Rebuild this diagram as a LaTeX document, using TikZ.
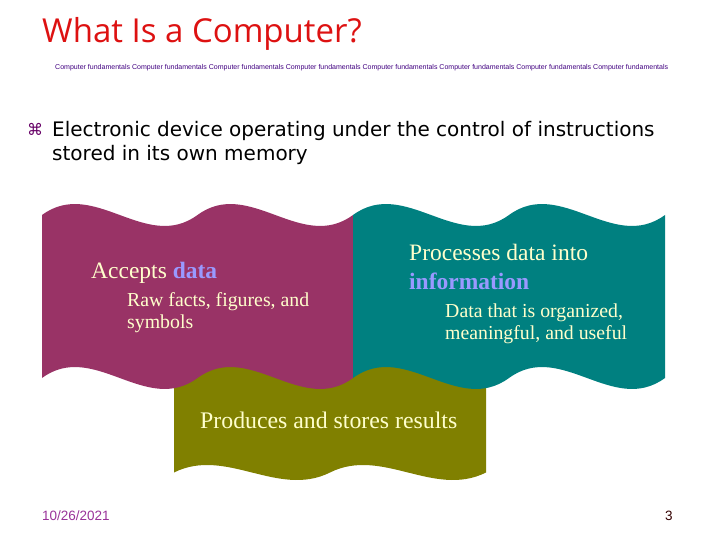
\documentclass[tikz,border=0pt]{standalone}
\usepackage{fontspec}
\setmainfont{Liberation Serif}
\newfontfamily\tahoma{DejaVu Sans}
\newfontfamily\dejavu{DejaVu Sans}
\newfontfamily\titlefont{Open Sans}
\newfontfamily\arialfont{Liberation Sans}
\definecolor{wmag}{HTML}{993366}
\definecolor{wteal}{HTML}{008080}
\definecolor{wolive}{HTML}{808000}
\definecolor{cream}{HTML}{FFFFCC}
\definecolor{lav}{HTML}{9999FF}
\definecolor{titlered}{HTML}{DD1111}
\definecolor{tinypurple}{HTML}{400080}
\definecolor{bulcol}{HTML}{660066}
\definecolor{datecol}{HTML}{993399}
\definecolor{numcol}{HTML}{330000}
\begin{document}
\begin{tikzpicture}[x=1pt,y=-1pt,
  txt/.style={inner sep=0pt, anchor=base west}]
\useasboundingbox (0,0) rectangle (720,540);
% title
\node[txt, text=titlered, font=\titlefont\fontsize{33}{37}\selectfont] (title) at (42,43) {What Is a Computer?};
\node[txt, text=tinypurple, font=\arialfont\fontsize{6}{7}\selectfont] (tiny) at (55,70)
  {\resizebox{613pt}{!}{Computer fundamentals Computer fundamentals Computer fundamentals Computer fundamentals Computer fundamentals Computer fundamentals Computer fundamentals Computer fundamentals}};
% bullet
\node[txt, text=bulcol, font=\dejavu\fontsize{16}{18}\selectfont] (bul) at (27,136) {⌘};
\node[txt, font=\tahoma\fontsize{20}{24}\selectfont] (l1) at (52,137) {Electronic device operating under the control of instructions};
\node[txt, font=\tahoma\fontsize{20}{24}\selectfont] (l2) at (52,161) {stored in its own memory};
% shapes
\fill[wolive] (174,360) -- (486,360) -- (486,472.5)
  .. controls (434,498.5) and (382,446.5) .. (330,472.5)
  .. controls (278,498.5) and (226,446.5) .. (174,472.5) -- cycle;
\fill[wmag] (42,215) .. controls (93.8,177) and (145.7,253) .. (197.5,215)
  .. controls (249.3,177) and (301.2,253) .. (353,215) -- (353,378)
  .. controls (301.2,416) and (249.3,340) .. (197.5,378)
  .. controls (145.7,416) and (93.8,340) .. (42,378) -- cycle;
\fill[wteal] (353,215) .. controls (405,177) and (457,253) .. (509,215)
  .. controls (561,177) and (613,253) .. (665,215) -- (665,378)
  .. controls (613,416) and (561,340) .. (509,378)
  .. controls (457,416) and (405,340) .. (353,378) -- cycle;
% texts in shapes
\node[txt, text=cream, font=\fontsize{23.5}{27}\selectfont] (acc) at (91,278) {Accepts \textcolor{lav}{\textbf{data}}};
\node[txt, text=cream, font=\fontsize{19.8}{23}\selectfont] (raw1) at (127,306) {Raw facts, figures, and};
\node[txt, text=cream, font=\fontsize{19.8}{23}\selectfont] (raw2) at (127,328) {symbols};
\node[txt, text=cream, font=\fontsize{23.5}{27}\selectfont] (proc1) at (409,260) {Processes data into};
\node[txt, text=lav, font=\bfseries\fontsize{23.5}{27}\selectfont] (proc2) at (409,289) {information};
\node[txt, text=cream, font=\fontsize{19.8}{23}\selectfont] (dat1) at (445,317) {Data that is organized,};
\node[txt, text=cream, font=\fontsize{19.8}{23}\selectfont] (dat2) at (445,339) {meaningful, and useful};
\node[txt, text=cream, font=\fontsize{23.8}{27}\selectfont] (prod) at (200,428) {Produces and stores results};
% footer
\node[txt, text=datecol, font=\arialfont\fontsize{13.5}{15}\selectfont] (date) at (42,520) {10/26/2021};
\node[txt, text=numcol, font=\arialfont\fontsize{13.5}{15}\selectfont] (num) at (665,520) {3};
\end{tikzpicture}
\end{document}
